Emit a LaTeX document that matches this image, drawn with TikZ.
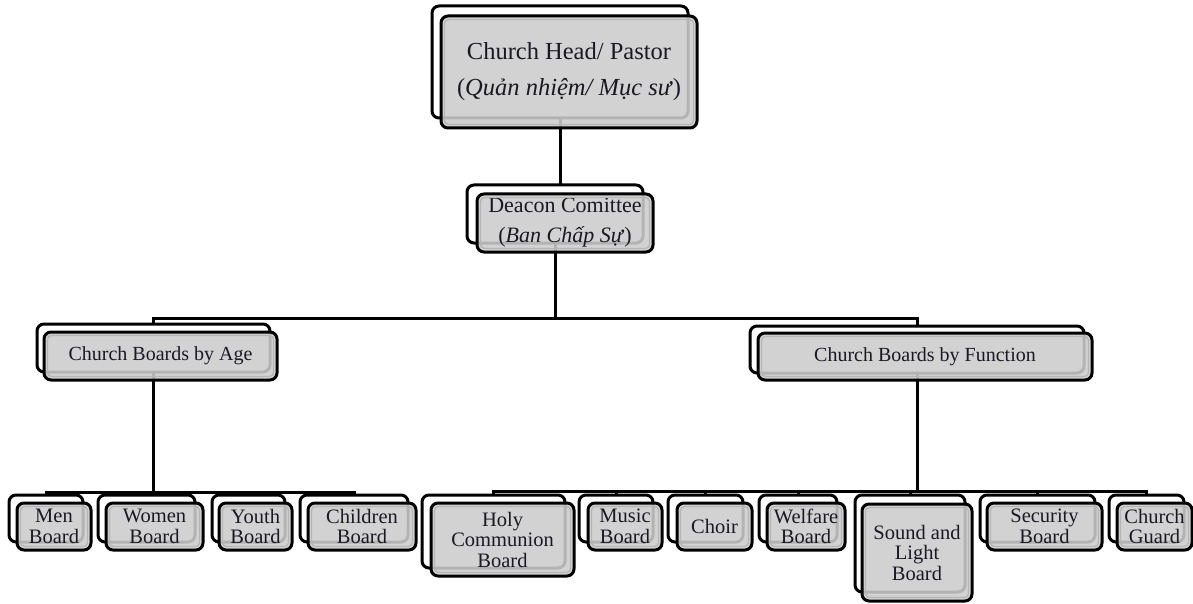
\documentclass[tikz,border=0pt]{standalone}
\usepackage{fontspec}
\setmainfont{Liberation Serif}
\usetikzlibrary{backgrounds}
\definecolor{boxgray}{RGB}{204,204,204}
\definecolor{innergray}{RGB}{182,182,182}
\definecolor{txt}{RGB}{25,25,35}
\tikzset{
 backbox/.style={draw, line width=3pt, rounded corners=7pt, fill=white, inner sep=0pt, outer sep=0pt},
 frontbox/.style={draw, line width=3pt, rounded corners=7pt, fill=boxgray, fill opacity=0.88, text opacity=1, draw opacity=1, inner sep=0pt, outer sep=0pt, align=center, text=txt},
 innerline/.style={draw=innergray, line width=1.3pt, rounded corners=4pt},
 conn/.style={draw, line width=3pt},
 fTop/.style={font=\fontsize{24.5}{36}\selectfont},
 fDeac/.style={font=\fontsize{22}{30}\selectfont},
 fMid/.style={font=\fontsize{20}{24}\selectfont},
 fLow/.style={font=\fontsize{20.5}{20.5}\selectfont},
}
\newcommand\orgbox[9]{%
 \node[backbox, minimum width={(#4-#2)*1pt}, minimum height={(#5-#3)*1pt}] (#1b) at ({(#2+#4)/2},{(#3+#5)/2}) {};
 \node[frontbox, #8, minimum width={(#4-#2)*1pt}, minimum height={(#5-#3)*1pt}] (#1) at ({(#2+#4)/2+#6},{(#3+#5)/2+#7}) {#9};
 \draw[innerline] ([shift={(3.5,3.5)}]#1.north west) rectangle ([shift={(-3.5,-3.5)}]#1.south east);
}
\begin{document}
\begin{tikzpicture}[x=1pt,y=-1pt]
\useasboundingbox (0,0) rectangle (1193,604);
\orgbox{top}{432}{6}{688}{118}{9}{10}{fTop}{Church Head/ Pastor\\(\textit{Quản nhiệm/ Mục sư})}
\orgbox{deac}{467}{185}{643}{243}{10}{9}{fDeac}{Deacon Comittee\\(\textit{Ban Chấp Sự})}
\orgbox{age}{37}{324}{270}{372}{7}{8}{fMid}{Church Boards by Age}
\orgbox{func}{750}{326}{1084}{373}{8}{7}{fMid}{Church Boards by Function}
% age boards
\orgbox{men}{9}{495}{83}{542}{8}{8}{fLow}{Men\\Board}
\orgbox{women}{98}{495}{195}{542}{8}{8}{fLow}{Women\\Board}
\orgbox{youth}{212}{495}{285}{542}{7}{8}{fLow}{Youth\\Board}
\orgbox{children}{300}{495}{408}{542}{8}{8}{fLow}{Children\\Board}
% function boards
\orgbox{holy}{422}{495}{565}{568}{9}{8}{fLow}{Holy\\Communion\\Board}
\orgbox{music}{579}{495}{653}{542}{9}{8}{fLow}{Music\\Board}
\orgbox{choir}{668}{495}{743}{542}{9}{8}{fLow}{Choir}
\orgbox{welfare}{759}{495}{837}{542}{8}{8}{fLow}{Welfare\\Board}
\orgbox{sound}{855}{495}{965}{592}{7}{9}{fLow}{Sound and\\Light\\Board}
\orgbox{security}{980}{495}{1095}{542}{7}{8}{fLow}{Security\\Board}
\orgbox{guard}{1109}{495}{1184}{542}{8}{8}{fLow}{Church\\Guard}
\coordinate (busTwo) at (0,318);
\coordinate (busA) at (0,492);
\coordinate (busF) at (0,491);
\begin{scope}[on background layer]
 \draw[conn] (topb.south) -- (topb.south |- deacb.north);
 \draw[conn] (deacb.south) -- (deacb.south |- busTwo);
 \draw[conn] (ageb.north) -- (ageb.north |- busTwo) -- (funcb.north |- busTwo) -- (funcb.north);
 % age
 \draw[conn] (ageb.south) -- (ageb.south |- busA);
 \draw[conn] (menb.north) -- (menb.north |- busA) -- (childrenb.north |- busA) -- (childrenb.north);
 \draw[conn] (womenb.north) -- (womenb.north |- busA);
 \draw[conn] (youthb.north) -- (youthb.north |- busA);
 % function
 \draw[conn] (funcb.south) -- (funcb.south |- busF);
 \draw[conn] (holyb.north) -- (holyb.north |- busF) -- (guardb.north |- busF) -- (guardb.north);
 \draw[conn] (musicb.north) -- (musicb.north |- busF);
 \draw[conn] (choirb.north) -- (choirb.north |- busF);
 \draw[conn] (welfareb.north) -- (welfareb.north |- busF);
 \draw[conn] (soundb.north) -- (soundb.north |- busF);
 \draw[conn] (securityb.north) -- (securityb.north |- busF);
\end{scope}
\end{tikzpicture}
\end{document}
